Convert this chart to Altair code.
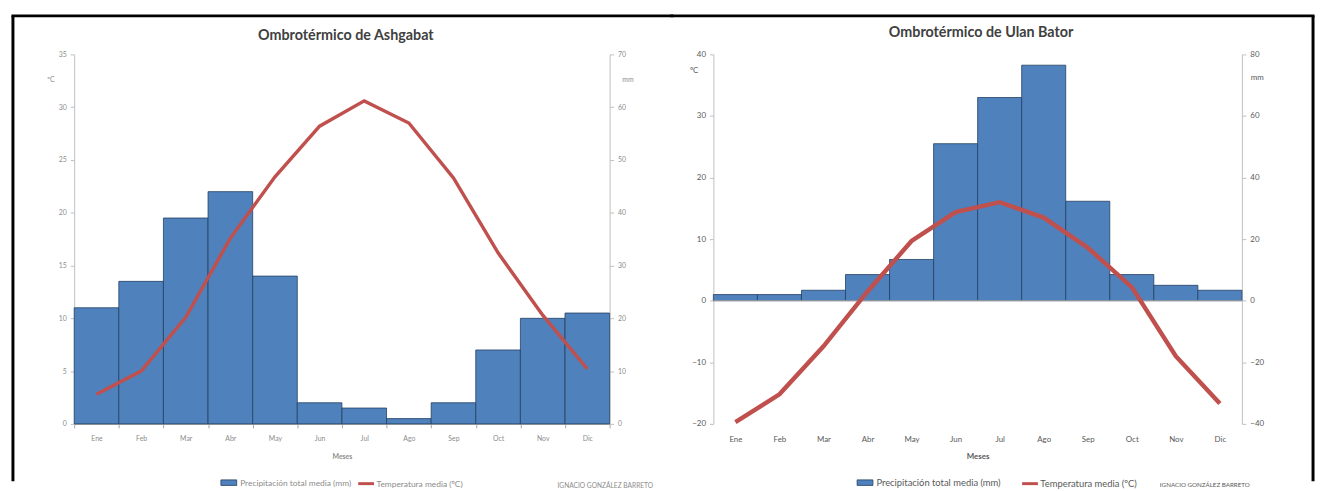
import altair as alt
import pandas as pd

meses = ["Ene", "Feb", "Mar", "Abr", "May", "Jun", "Jul", "Ago", "Sep", "Oct", "Nov", "Dic"]

ash_prec = [22, 27, 39, 44, 28, 4, 3, 1, 4, 14, 20, 21]
ash_temp = [2.8, 5.0, 10.1, 17.6, 23.4, 28.2, 30.6, 28.5, 23.3, 16.2, 10.3, 5.2]

ub_prec = [2, 2, 3.4, 8.5, 13.4, 51, 66, 76.5, 32.3, 8.5, 5, 3.4]
ub_temp = [-19.7, -15.2, -7.4, 1.5, 9.7, 14.4, 16.0, 13.5, 8.6, 2.2, -9.0, -16.7]

ash_tvals = [0, 5, 10, 15, 20, 25, 30, 35]
ash_pvals = [0, 10, 20, 30, 40, 50, 60, 70]
ub_tvals = [-20, -10, 0, 10, 20, 30, 40]
ub_pvals = [-40, -20, 0, 20, 40, 60, 80]

LEG_P = "Precipitación total media (mm)"
LEG_T = "Temperatura media (ºC)"
CREDIT = "IGNACIO GONZÁLEZ BARRETO"

BLUE = "#4F81BD"
RED = "#C0504D"
FONT = "Lato"
one = pd.DataFrame({"a": [0]})


def panel(title, prec, temp, tvals, pvals, width, height, txt, fs, lfs, cfs, lw,
          c_pos, mm_pos, leg1, leg2, legy, credit_x, credit_y, x_axis_at_zero,
          title_pos, frame_top, frame_side):
    df = pd.DataFrame({"mes": meses, "prec": prec, "temp": temp,
                       "sp": [LEG_P] * 12, "st": [LEG_T] * 12})
    xaxis = alt.Axis(title="Meses", labelAngle=0, labelFontSize=fs, labelColor=txt,
                     titleFontSize=fs, titleColor=txt, titleFontWeight="bold",
                     domain=not x_axis_at_zero, ticks=not x_axis_at_zero,
                     tickBand="extent", tickSize=4, tickColor="#A6A6A6",
                     domainColor="#A6A6A6",
                     labelPadding=12 if x_axis_at_zero else 7,
                     titlePadding=9 if x_axis_at_zero else 11)
    x = alt.X("mes:N", sort=meses, scale=alt.Scale(paddingInner=0, paddingOuter=0),
              axis=xaxis)
    yaxis_common = dict(labelFontSize=fs, labelColor=txt, domainColor="#BFBFBF",
                        tickColor="#BFBFBF", tickSize=4, grid=False,
                        titleAngle=0, titleFontSize=fs, titleColor=txt,
                        titleFontWeight="normal", titleAlign="center",
                        titleBaseline="middle", labelPadding=4)
    bars = alt.Chart(df).mark_bar(stroke="#243F60", strokeWidth=0.8).encode(
        x=x,
        y=alt.Y("prec:Q",
                scale=alt.Scale(domain=[pvals[0], pvals[-1]], nice=False, zero=True),
                axis=alt.Axis(orient="right", title="mm", values=pvals,
                              titleX=mm_pos[0], titleY=mm_pos[1], **yaxis_common)),
        fill=alt.Fill("sp:N", scale=alt.Scale(domain=[LEG_P], range=[BLUE]),
                      legend=alt.Legend(title=None, orient="none", legendX=leg1, legendY=legy,
                                        symbolType="M-1,-0.35H1V0.35H-1Z", symbolSize=256,
                                        symbolStrokeColor="#243F60", symbolStrokeWidth=0.8,
                                        labelFontSize=lfs, labelColor=txt, padding=0,
                                        labelOffset=3, labelLimit=400)),
    )
    line = alt.Chart(df).mark_line(strokeWidth=lw).encode(
        x=x,
        y=alt.Y("temp:Q", scale=alt.Scale(domain=[tvals[0], tvals[-1]], nice=False),
                axis=alt.Axis(orient="left", title="ºC", values=tvals,
                              titleX=c_pos[0], titleY=c_pos[1], **yaxis_common)),
        stroke=alt.Stroke("st:N", scale=alt.Scale(domain=[LEG_T], range=[RED]),
                          legend=alt.Legend(title=None, orient="none", legendX=leg2, legendY=legy,
                                            symbolType="stroke", symbolSize=256,
                                            symbolStrokeWidth=3, labelFontSize=lfs,
                                            labelColor=txt, padding=0, labelOffset=1,
                                            labelLimit=400)),
    )
    credit = alt.Chart(pd.DataFrame({"t": [CREDIT]})).mark_text(
        align="right", baseline="middle", fontSize=cfs, color=txt, font=FONT
    ).encode(text="t:N", x=alt.value(credit_x), y=alt.value(credit_y))
    ttl = alt.Chart(pd.DataFrame({"t": [title]})).mark_text(
        align="center", baseline="middle", fontSize=14.5, fontWeight="bold",
        color="#404040", font=FONT
    ).encode(text="t:N", x=alt.value(title_pos[0]), y=alt.value(title_pos[1]))
    ftop = alt.Chart(one).mark_rule(color="black", strokeWidth=3, strokeCap="square").encode(
        x=alt.value(frame_top[0]), x2=alt.value(frame_top[1]), y=alt.value(frame_top[2]))
    fside = alt.Chart(one).mark_rule(color="black", strokeWidth=3).encode(
        x=alt.value(frame_side[0]), y=alt.value(frame_side[1]), y2=alt.value(frame_side[2]))
    layers = [bars]
    if x_axis_at_zero:
        zero = alt.Chart(pd.DataFrame({"z": [0]})).mark_rule(color="#A6A6A6", strokeWidth=1).encode(
            y=alt.Y("z:Q", scale=alt.Scale(domain=[pvals[0], pvals[-1]], nice=False), axis=None)
        )
        layers.append(zero)
    layers += [line, credit, ttl, ftop, fside]
    return alt.layer(*layers).resolve_scale(y="independent", fill="independent",
                                            stroke="independent").properties(
        width=width, height=height)


left = panel("Ombrotérmico de Ashgabat", ash_prec, ash_temp, ash_tvals, ash_pvals,
             542, 374, "#8C8C8C", 7, 8.5, 6.7, 3.5, (-24, 25), (18, 25), 148, 286, 425,
             586, 437, False, (275, -19), (-62, 605, -39), (-62, -39, 432))
right = panel("Ombrotérmico de Ulan Bator", ub_prec, ub_temp, ub_tvals, ub_pvals,
              535, 374, "#595959", 8, 9.5, 6.3, 4.5, (-20, 16), (15, 23), 145, 311, 425,
              543, 436, True, (271, -22), (-42, 607, -39), (607, -39, 432))

chart = alt.hconcat(left, right, spacing=-6).resolve_scale(
    y="independent", fill="independent", stroke="independent"
).properties(
    padding={"left": 2, "top": 2, "right": 0, "bottom": 0}
).configure(font=FONT).configure_view(stroke=None).configure_axis(labelFont=FONT, titleFont=FONT)

chart.save("out.html", embed_options={"renderer": "svg", "actions": False})
